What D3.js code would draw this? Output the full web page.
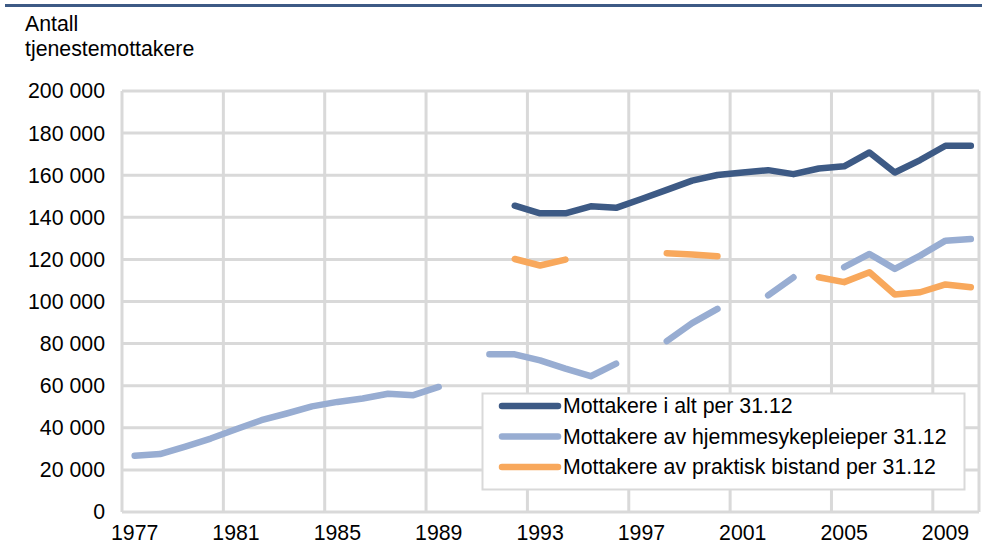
<!DOCTYPE html>
<html>
<head>
<meta charset="utf-8">
<script src="https://cdn.jsdelivr.net/npm/d3@7"></script>
<style>
  body { margin: 0; background: #fff; }
  svg { display: block; font-family: "Liberation Sans", Arial, sans-serif; }
</style>
</head>
<body>
<div id="chart"></div>
<script>
// years on the x axis
var years = d3.range(1977, 2011);
var tickYears = [1977, 1981, 1985, 1989, 1993, 1997, 2001, 2005, 2009];
var yTicks = [0, 20000, 40000, 60000, 80000, 100000, 120000, 140000, 160000, 180000, 200000];

// Mottakere i alt per 31.12 (1977..2010, null = no data)
var totalAll = [null, null, null, null, null, null, null, null, null, null, null, null, null, null, null,
  145500, 141900, 141900, 145200, 144500, 148700, 153000, 157400, 160100, 161300, 162400, 160500,
  163200, 164200, 170800, 161300, 167200, 174000, 174000];
// Mottakere av hjemmesykepleie
var homeNursing = [26700, 27500, 31100, 34900, 39300, 43600, 46800, 50200, 52300, 53900, 56200, 55500,
  59400, null, 74900, 74900, 72000, 68100, 64500, 70500, null, 81200, 89700, 96500, null,
  102900, 111500, null, 116300, 122600, 115500, 121800, 128900, 129700];
// Mottakere av praktisk bistand
var practicalAid = [null, null, null, null, null, null, null, null, null, null, null, null, null, null, null,
  120200, 117100, 119900, null, null, null, 122900, 122300, 121500, null, null, null,
  111500, 109200, 113900, 103300, 104400, 108100, 106800];

var seriesNames = ["Mottakere i alt per 31.12", "Mottakere av hjemmesykepleieper 31.12", "Mottakere av praktisk bistand per 31.12"];
var seriesColors = ["#3d5a85", "#98add2", "#f8a85c"];
var seriesValues = [totalAll, homeNursing, practicalAid];

var width = 982, height = 545;
var svg = d3.select("#chart").append("svg")
    .attr("width", width)
    .attr("height", height);

var plotLeft = 122, plotRight = 979, plotTop = 91, plotBottom = 512;
var fontSize = "21.3px";

var x = d3.scaleBand()
    .domain(years)
    .range([plotLeft, 983.5]);

var y = d3.scaleLinear()
    .domain([0, 200000])
    .range([plotBottom, plotTop]);

// top rule
svg.append("line")
    .attr("x1", 5).attr("x2", width)
    .attr("y1", 5.5).attr("y2", 5.5)
    .style("stroke", "#3d5a85")
    .style("stroke-width", 3);

// axis title
svg.append("text").attr("x", 25).attr("y", 31).style("font-size", fontSize).text("Antall");
svg.append("text").attr("x", 25).attr("y", 56).style("font-size", fontSize).text("tjenestemottakere");

// grid
var grid = svg.append("g").style("stroke", "#d9d9d9").style("stroke-width", 3);
grid.selectAll(".hg")
    .data(yTicks)
  .enter().append("line")
    .attr("x1", plotLeft).attr("x2", plotRight)
    .attr("y1", function(d) { return y(d); })
    .attr("y2", function(d) { return y(d); });
grid.selectAll(".vg")
    .data(tickYears)
  .enter().append("line")
    .attr("x1", function(d) { return x(d); })
    .attr("x2", function(d) { return x(d); })
    .attr("y1", plotTop).attr("y2", plotBottom);
grid.append("line")
    .attr("x1", plotRight).attr("x2", plotRight)
    .attr("y1", plotTop).attr("y2", plotBottom);

// y labels
svg.selectAll(".ylab")
    .data(yTicks)
  .enter().append("text")
    .attr("x", 105)
    .attr("y", function(d) { return y(d); })
    .attr("dy", "0.35em")
    .attr("text-anchor", "end")
    .style("font-size", fontSize)
    .text(function(d) { return d3.format(",")(d).replace(/,/g, " "); });

// x labels
svg.selectAll(".xlab")
    .data(tickYears)
  .enter().append("text")
    .attr("x", function(d) { return x(d) + x.bandwidth() / 2; })
    .attr("y", 540)
    .attr("text-anchor", "middle")
    .style("font-size", fontSize)
    .text(function(d) { return d; });

// lines
var line = d3.line()
    .defined(function(d) { return d != null; })
    .x(function(d, i) { return x(years[i]) + x.bandwidth() / 2; })
    .y(function(d) { return y(d); });

svg.selectAll(".serie")
    .data(seriesValues)
  .enter().append("path")
    .attr("d", line)
    .style("fill", "none")
    .style("stroke", function(d, i) { return seriesColors[i]; })
    .style("stroke-width", 6.5)
    .style("stroke-linecap", "round")
    .style("stroke-linejoin", "round");

// legend
var lg = svg.append("g");
lg.append("rect")
    .attr("x", 482.5).attr("y", 393.5)
    .attr("width", 482).attr("height", 96)
    .style("fill", "#fff")
    .style("stroke", "#d9d9d9")
    .style("stroke-width", 2);

var item = lg.selectAll(".item")
    .data(seriesNames)
  .enter().append("g")
    .attr("transform", function(d, i) { return "translate(0," + (406 + i * 30.5) + ")"; });
item.append("line")
    .attr("x1", 502).attr("x2", 558)
    .style("stroke", function(d, i) { return seriesColors[i]; })
    .style("stroke-width", 6.5)
    .style("stroke-linecap", "round");
item.append("text")
    .attr("x", 563)
    .attr("dy", "0.35em")
    .style("font-size", fontSize)
    .text(function(d) { return d; });
</script>
</body>
</html>
